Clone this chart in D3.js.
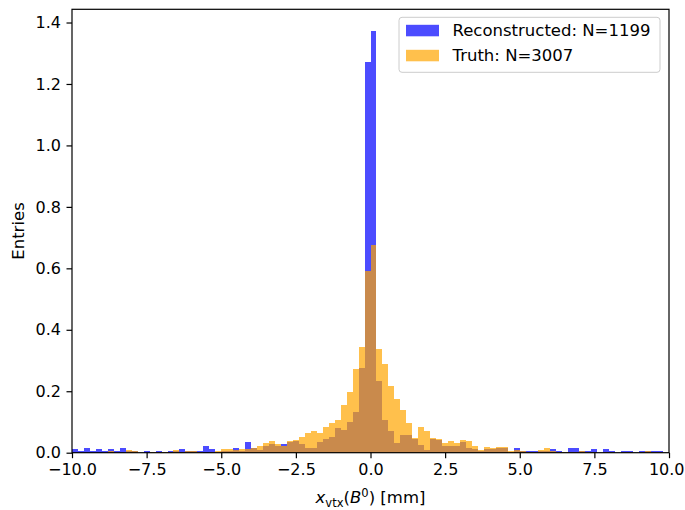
<!DOCTYPE html>
<html>
<head>
<meta charset="utf-8">
<script src="https://cdn.jsdelivr.net/npm/d3@7"></script>
<style>
  html, body { margin: 0; padding: 0; background: #fff; }
  svg { display: block; font-family: "DejaVu Sans", sans-serif; }
</style>
</head>
<body>
<svg id="chart" width="685" height="510"></svg>
<script>
// ---- data (density-normalised histograms, 100 bins of width 0.2 from -10 to 10) ----
const binStart = -10;
const binWidth = 0.2;
const recoValues = [
  0.0125, 0.0042, 0.0167, 0.0042, 0.0125, 0.0042, 0.0125, 0.0042, 0.0167, 0.0042,
  0.0042, 0.0000, 0.0042, 0.0000, 0.0042, 0.0000, 0.0042, 0.0042, 0.0125, 0.0042,
  0.0042, 0.0042, 0.0208, 0.0125, 0.0000, 0.0042, 0.0042, 0.0167, 0.0042, 0.0333,
  0.0167, 0.0083, 0.0208, 0.0292, 0.0208, 0.0292, 0.0333, 0.0375, 0.0292, 0.0167,
  0.0167, 0.0333, 0.0458, 0.0500, 0.0790, 0.0750, 0.1000, 0.1330, 0.2750, 1.2720,
  1.3740, 0.2330, 0.1080, 0.0710, 0.0330, 0.0580, 0.0580, 0.0460, 0.0250, 0.0083,
  0.0460, 0.0420, 0.0208, 0.0208, 0.0208, 0.0333, 0.0167, 0.0125, 0.0042, 0.0125,
  0.0125, 0.0167, 0.0167, 0.0000, 0.0167, 0.0042, 0.0042, 0.0042, 0.0042, 0.0042,
  0.0125, 0.0042, 0.0000, 0.0167, 0.0167, 0.0042, 0.0042, 0.0125, 0.0000, 0.0125,
  0.0042, 0.0000, 0.0042, 0.0042, 0.0000, 0.0042, 0.0042, 0.0042, 0.0042, 0.0000
];
const truthValues = [
  0.0000, 0.0000, 0.0000, 0.0000, 0.0000, 0.0000, 0.0050, 0.0000, 0.0000, 0.0100,
  0.0050, 0.0000, 0.0000, 0.0033, 0.0017, 0.0033, 0.0017, 0.0100, 0.0033, 0.0050,
  0.0050, 0.0017, 0.0000, 0.0033, 0.0050, 0.0120, 0.0120, 0.0100, 0.0120, 0.0130,
  0.0140, 0.0220, 0.0330, 0.0370, 0.0270, 0.0220, 0.0370, 0.0410, 0.0520, 0.0650,
  0.0690, 0.0630, 0.0850, 0.0970, 0.1080, 0.1550, 0.1980, 0.2720, 0.3440, 0.5920,
  0.6750, 0.3390, 0.2890, 0.2180, 0.1750, 0.1390, 0.0960, 0.0470, 0.0830, 0.0690,
  0.0470, 0.0450, 0.0330, 0.0370, 0.0330, 0.0410, 0.0370, 0.0220, 0.0090, 0.0170,
  0.0140, 0.0170, 0.0170, 0.0050, 0.0090, 0.0050, 0.0033, 0.0033, 0.0100, 0.0140,
  0.0050, 0.0033, 0.0033, 0.0033, 0.0017, 0.0050, 0.0017, 0.0017, 0.0000, 0.0017,
  0.0017, 0.0000, 0.0017, 0.0017, 0.0000, 0.0017, 0.0050, 0.0017, 0.0017, 0.0000
];
const xTicks = [-10, -7.5, -5, -2.5, 0, 2.5, 5, 7.5, 10];
const yTicks = [0, 0.2, 0.4, 0.6, 0.8, 1.0, 1.2, 1.4];
const seriesNames = ["Reconstructed: N=1199", "Truth: N=3007"];
const seriesColors = ["#0000ff", "#ffa500"];

// ---- layout ----
const W = 685, H = 510;
const m = { left: 72, right: 669, top: 9.3, bottom: 452.7 };
const fs = 16.5;
const tickFs = 16;

const svg = d3.select("#chart");
const x = d3.scaleLinear().domain([-10, 10]).range([m.left, m.right]);
const y = d3.scaleLinear().domain([0, 1.443]).range([m.bottom, m.top]);

function bins(vals) {
  return vals.map((v, i) => ({ x0: binStart + i * binWidth, x1: binStart + (i + 1) * binWidth, v }));
}

const plot = svg.append("g");
[recoValues, truthValues].forEach((vals, si) => {
  plot.append("g")
    .selectAll("rect")
    .data(bins(vals).filter(d => d.v > 0))
    .join("rect")
    .attr("x", d => x(d.x0))
    .attr("width", d => x(d.x1) - x(d.x0))
    .attr("y", d => y(d.v))
    .attr("height", d => y(0) - y(d.v))
    .attr("fill", seriesColors[si])
    .attr("fill-opacity", 0.7)
    .attr("shape-rendering", "crispEdges");
});

// ---- axes ----
const fmtX = d => d3.format(".1f")(d).replace("-", "\u2212");
const xAxis = d3.axisBottom(x).tickValues(xTicks).tickFormat(fmtX).tickSize(5.5).tickPadding(5.5);
const yAxis = d3.axisLeft(y).tickValues(yTicks).tickFormat(d3.format(".1f")).tickSize(5.5).tickPadding(5.5);

const gx = svg.append("g").attr("transform", `translate(0,${m.bottom})`).call(xAxis);
const gy = svg.append("g").attr("transform", `translate(${m.left},0)`).call(yAxis);
[gx, gy].forEach(g => {
  g.select(".domain").remove();
  g.selectAll(".tick line").attr("stroke", "#000").attr("stroke-width", 1.2);
  g.selectAll(".tick text").attr("fill", "#000").style("font-size", tickFs + "px")
    .style("font-family", "DejaVu Sans");
});
gx.selectAll(".tick text").attr("dy", "0.71em");
// keep the last label inside the picture
gx.selectAll(".tick text").filter(d => d === 10).attr("text-anchor", "end").attr("x", 684 - m.right);

// frame
svg.append("rect")
  .attr("x", m.left).attr("y", m.top)
  .attr("width", m.right - m.left).attr("height", m.bottom - m.top)
  .attr("fill", "none").attr("stroke", "#000").attr("stroke-width", 1.2);

// axis labels
const xl = svg.append("text")
  .attr("x", (m.left + m.right) / 2).attr("y", 503)
  .attr("text-anchor", "middle").style("font-size", fs + "px").attr("fill", "#000");
xl.append("tspan").style("font-style", "italic").text("x");
xl.append("tspan").attr("dy", 3.8).style("font-size", (fs * 0.7) + "px").text("vtx");
xl.append("tspan").attr("dy", -3.8).text("(");
xl.append("tspan").style("font-style", "italic").text("B");
xl.append("tspan").attr("dy", -6.5).style("font-size", (fs * 0.7) + "px").text("0");
xl.append("tspan").attr("dy", 6.5).text(")");
xl.append("tspan").text(" [mm]");

svg.append("text")
  .attr("transform", `translate(24,${(m.top + m.bottom) / 2}) rotate(-90)`)
  .attr("text-anchor", "middle").style("font-size", fs + "px").attr("fill", "#000")
  .text("Entries");

// ---- legend ----
const lg = svg.append("g");
lg.append("rect")
  .attr("x", 399).attr("y", 17.3).attr("width", 261).attr("height", 55)
  .attr("rx", 3).attr("fill", "#fff").attr("fill-opacity", 0.8)
  .attr("stroke", "#cccccc").attr("stroke-width", 1);
seriesNames.forEach((name, i) => {
  const cy = 30.5 + i * 25;
  lg.append("rect")
    .attr("x", 406).attr("y", cy - 5.7).attr("width", 33).attr("height", 11.5)
    .attr("fill", seriesColors[i]).attr("fill-opacity", 0.7);
  lg.append("text")
    .attr("x", 452.5).attr("y", cy).attr("dy", "0.36em")
    .style("font-size", fs + "px").attr("fill", "#000").text(name);
});
</script>
</body>
</html>
